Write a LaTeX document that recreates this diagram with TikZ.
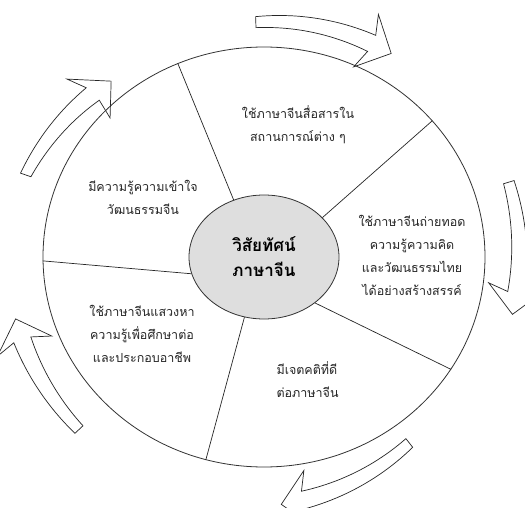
\documentclass[tikz,border=0pt]{standalone}
\usepackage{fontspec}
\setmainfont{Loma}[Script=Thai]
\usetikzlibrary{shapes.geometric}

% curved arrow round the ring: tail angle, tip angle, tail radius, tip radius
\newcommand{\ringarrow}[4]{%
  \pgfmathsetmacro{\hb}{#2+22/#4*57.3}%
  \pgfmathsetmacro{\rb}{#3+(#4-#3)*((#1)-(\hb))/((#1)-(#2))}%
  \draw[ringarrow]
    plot[variable=\t, domain=#1:\hb, samples=24]
      (\t:{#3+(#4-#3)*((#1)-(\t))/((#1)-(#2))+5.5+3.5*((#1)-(\t))/((#1)-(\hb))})
    -- (\hb+1.5:\rb+29) -- (#2:#4) -- (\hb+1.5:\rb-29)
    -- plot[variable=\t, domain=\hb:#1, samples=24]
      (\t:{#3+(#4-#3)*((#1)-(\t))/((#1)-(#2))-5.5-3.5*((#1)-(\t))/((#1)-(\hb))})
    -- cycle;}

\begin{document}
\begin{tikzpicture}[x=1pt, y=1pt,
    ringarrow/.style={shift={(264,250)}, draw=black!85, line width=0.7pt, fill=white},
    divider/.style={draw=black!85, line width=0.7pt},
    goal/.style={font=\fontsize{12.5}{23}\selectfont, align=center, text=black!85}]
  \path[use as bounding box, fill=white] (0,0) rectangle (525,507);
  \clip (0,0) rectangle (525,507);

  % Arrows
  \ringarrow{92}{58}{235}{240}
  \ringarrow{17}{-13}{256}{255}
  \ringarrow{-52}{-86}{236}{248}
  \ringarrow{-137}{-166}{253}{256}
  \ringarrow{161}{131}{252}{233}

  % Ring and hub
  \node[ellipse, draw=black!80, line width=0.8pt, minimum width=442pt,
    minimum height=420pt, inner sep=0pt] (ring) at (264,250) {};
  \node[ellipse, draw=black!80, line width=0.8pt, fill=black!13,
    minimum width=150pt, minimum height=124pt, inner sep=0pt, align=center,
    font=\fontsize{17}{25}\selectfont\bfseries] (hub) at (264,250) {วิสัยทัศน์\\ภาษาจีน};

  % Dividers
  \draw[divider] (hub.118) -- (ring.114);
  \draw[divider] (hub.34) -- (ring.39);
  \draw[divider] (hub.-42) -- (ring.-31);
  \draw[divider] (hub.-108) -- (ring.-106);
  \draw[divider] (hub.193) -- (ring.181);

  % Goals
  \node[goal] (talk) at (298,382) {ใช้ภาษาจีนสื่อสารใน\\สถานการณ์ต่าง ๆ};
  \node[goal] (convey) at (412,251.5) {ใช้ภาษาจีนถ่ายทอด\\ความรู้ความคิด\\และวัฒนธรรมไทย\\ได้อย่างสร้างสรรค์};
  \node[goal] (culture) at (143,309.5) {มีความรู้ความเข้าใจ\\วัฒนธรรมจีน};
  \node[goal] (career) at (142,173) {ใช้ภาษาจีนแสวงหา\\ความรู้เพื่อศึกษาต่อ\\และประกอบอาชีพ};
  \node[goal, align=left, anchor=west] (attitude) at (273,127) {มีเจตคติที่ดี\\ต่อภาษาจีน};
\end{tikzpicture}
\end{document}
